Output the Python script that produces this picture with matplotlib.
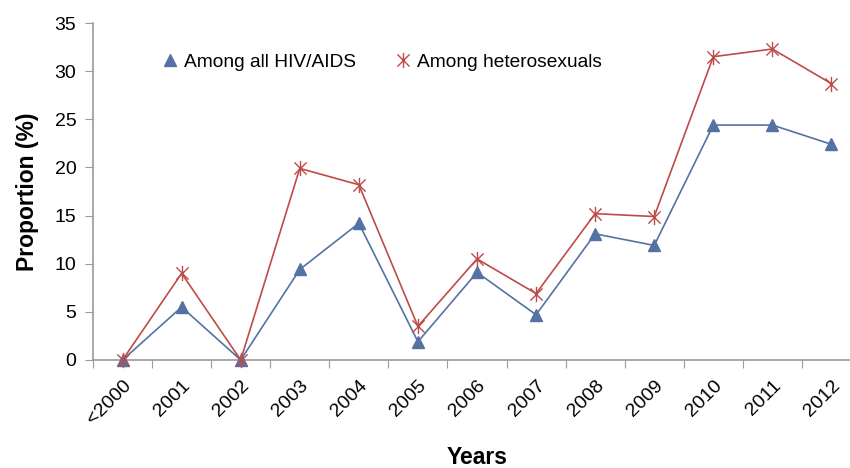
import matplotlib
matplotlib.use("Agg")
import matplotlib.pyplot as plt
from matplotlib.path import Path

years = ["<2000", "2001", "2002", "2003", "2004", "2005", "2006", "2007",
         "2008", "2009", "2010", "2011", "2012"]
all_hiv = [0, 5.5, 0, 9.4, 14.2, 1.9, 9.1, 4.7, 13.1, 11.9, 24.4, 24.4, 22.4]
hetero = [0, 9.0, 0, 19.9, 18.2, 3.5, 10.5, 6.9, 15.2, 14.9, 31.5, 32.3, 28.7]
yticks = [0, 5, 10, 15, 20, 25, 30, 35]

plt.rcParams['font.family'] = ['Liberation Sans', 'DejaVu Sans']

W, H = 850, 468
fig = plt.figure(figsize=(W / 100, H / 100), dpi=100)
left, right, top, bottom = 93, 861, 23, 360
ax = fig.add_axes([left / W, 1 - bottom / H, (right - left) / W, (bottom - top) / H])

star = Path([(-1, -1), (1, 1), (-1, 1), (1, -1), (0, -1.25), (0, 1.25)],
            [Path.MOVETO, Path.LINETO, Path.MOVETO, Path.LINETO, Path.MOVETO, Path.LINETO])

x = list(range(len(years)))
blue = '#5572A4'
red = '#BE4B48'
ax.plot(x, all_hiv, color=blue, lw=1.2, marker='^', ms=9, mfc=blue, mec=blue,
        label='Among all HIV/AIDS', clip_on=False, zorder=3)
ax.plot(x, hetero, color=red, lw=1.2, marker=star, ms=11, mec=red, mew=1.0,
        label='Among heterosexuals', clip_on=False, zorder=4)

fs = 14
ax.set_xlim(-0.5, len(years) - 0.5)
ax.set_ylim(0, 35)
ax.set_yticks(yticks)
ax.set_yticklabels([str(v) for v in yticks], fontsize=fs)
ax.set_xticks([i - 0.5 for i in range(len(years))], minor=False)
ax.set_xticklabels([])
ax.set_xticks(x, minor=True)
ax.set_xticklabels(years, minor=True, rotation=45, ha='right', rotation_mode='anchor',
                   fontsize=fs)
ax.tick_params(axis='x', which='minor', length=0, pad=12)
ax.tick_params(axis='x', which='major', length=6, color='#9a9a9a', direction='out')
ax.tick_params(axis='y', length=6, color='#9a9a9a', direction='out', pad=6)
for s in ['top', 'right']:
    ax.spines[s].set_visible(False)
for s in ['left', 'bottom']:
    ax.spines[s].set_color('#9a9a9a')
    ax.spines[s].set_linewidth(1.2)

ax.set_ylabel('Proportion (%)', fontsize=16.5, fontweight='bold', labelpad=11)
ax.set_xlabel('Years', fontsize=16.5, fontweight='bold', labelpad=13)

handles, labels = ax.get_legend_handles_labels()
leg = ax.legend(handles, labels, loc='upper left', bbox_to_anchor=(0.066, 0.96), ncol=2,
                frameon=False, fontsize=13.8, handlelength=0.9, handletextpad=0.3,
                columnspacing=2.0)
for h in leg.legend_handles:
    h.set_linestyle('None')

fig.savefig('out.png', dpi=100)
